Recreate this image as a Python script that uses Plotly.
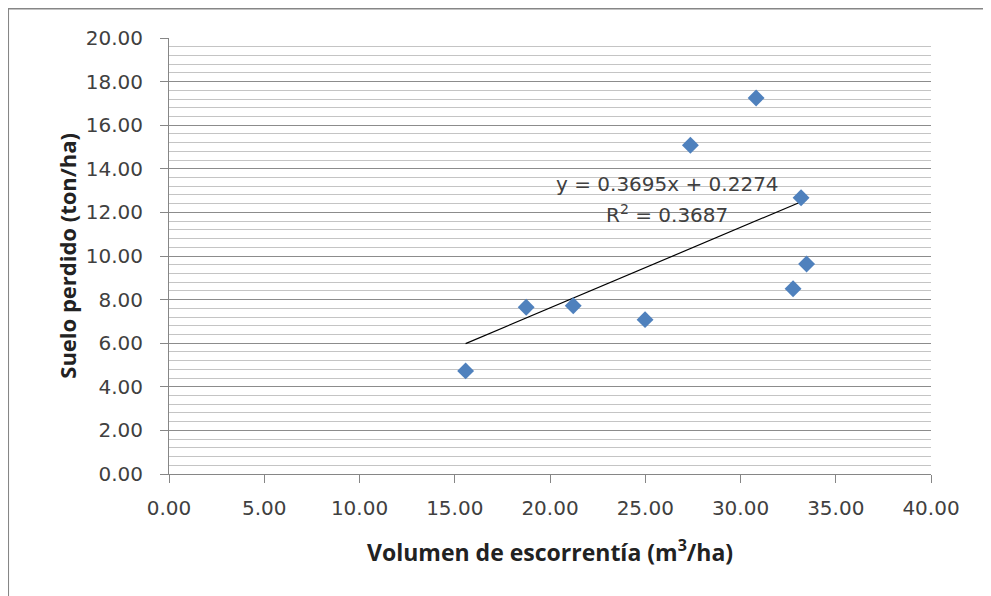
import plotly.graph_objects as go
import numpy as np

x_vol = [15.57, 18.75, 21.22, 24.99, 27.37, 30.82, 32.76, 33.18, 33.47]
y_suelo = [4.73, 7.65, 7.72, 7.08, 15.08, 17.25, 8.50, 12.67, 9.63]
slope = 0.3695
intercept = 0.2274
eq_text = "y = 0.3695x + 0.2274"
r2_text = "R<sup>2</sup> = 0.3687"
x_ticks = [0, 5, 10, 15, 20, 25, 30, 35, 40]
y_ticks = [0, 2, 4, 6, 8, 10, 12, 14, 16, 18, 20]
x_title = "<b>Volumen de escorrentía (m<sup>3</sup>/ha)</b>"
y_title = "<b>Suelo perdido (ton/ha)</b>"

font = "Open Sans, Liberation Sans, sans-serif"
tick_font = "DejaVu Sans, sans-serif"
txt = "#404040"

fig = go.Figure()
tx = np.array([min(x_vol), max(x_vol)])
fig.add_trace(go.Scatter(x=tx, y=slope * tx + intercept, mode="lines",
                         line=dict(color="black", width=1.2), hoverinfo="skip"))
fig.add_trace(go.Scatter(x=x_vol, y=y_suelo, mode="markers",
                         marker=dict(symbol="diamond", size=13, color="#4F81BD",
                                     line=dict(width=0))))

fig.update_layout(
    width=983, height=588,
    margin=dict(l=161, r=60, t=30, b=122),
    paper_bgcolor="white", plot_bgcolor="white",
    showlegend=False,
    font=dict(family=font, size=20, color=txt),
    xaxis=dict(range=[0, 40], tickvals=x_ticks,
               ticktext=[f"{v:.2f}" for v in x_ticks],
               showgrid=False, zeroline=False,
               showline=True, linecolor="#868686", linewidth=1,
               ticks="outside", ticklen=8, tickcolor="#868686",
               ticklabelstandoff=8,
               tickfont=dict(family=tick_font, size=20, color=txt)),
    yaxis=dict(range=[0, 20], tickvals=y_ticks,
               ticktext=[f"{v:.2f}" for v in y_ticks],
               showgrid=True, gridcolor="#8c8c8c", gridwidth=1,
               zeroline=False,
               showline=True, linecolor="#868686", linewidth=1,
               ticks="outside", ticklen=8, tickcolor="#868686",
               ticklabelstandoff=13,
               tickfont=dict(family=tick_font, size=20, color=txt),
               minor=dict(dtick=0.4, showgrid=True, gridcolor="#c4c4c4", gridwidth=1)),
    shapes=[dict(type="rect", xref="paper", yref="paper",
                 x0=-0.2109, x1=1.2, y0=-0.4, y1=1.0669,
                 line=dict(color="#868686", width=1.5), fillcolor="rgba(0,0,0,0)",
                 layer="below")],
    annotations=[
        dict(x=26.16, y=13.30, xref="x", yref="y", text=eq_text, showarrow=False,
             font=dict(family=tick_font, size=20, color=txt)),
        dict(x=26.16, y=11.93, xref="x", yref="y", text=r2_text, showarrow=False,
             font=dict(family=tick_font, size=20, color=txt)),
        dict(x=0.4994, y=-0.1757, xref="paper", yref="paper", text=x_title,
             showarrow=False, xanchor="center", yanchor="middle",
             font=dict(size=23, color="#222222")),
        dict(x=-0.1342, y=0.5, xref="paper", yref="paper", text=y_title,
             showarrow=False, xanchor="center", yanchor="middle", textangle=-90,
             font=dict(size=22, color="#222222")),
    ],
)

fig.write_html("out.html")
